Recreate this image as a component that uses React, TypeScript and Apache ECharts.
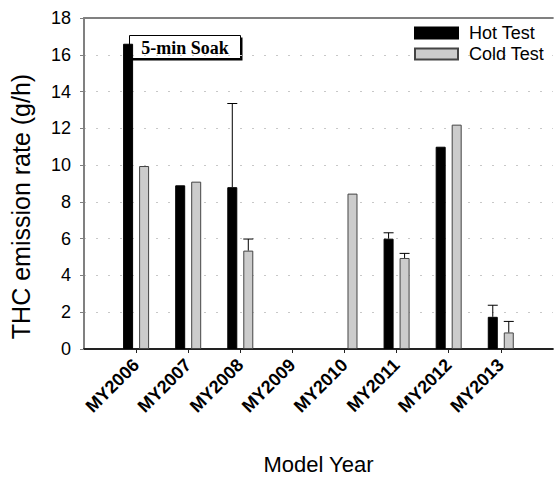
import React, { useEffect, useRef } from "react";
import * as echarts from "echarts";

const modelYears = ["MY2006", "MY2007", "MY2008", "MY2009", "MY2010", "MY2011", "MY2012", "MY2013"];
const hotTest: (number | null)[] = [16.6, 8.9, 8.8, null, null, 6.0, 11.0, 1.75];
const coldTest: (number | null)[] = [9.95, 9.1, 5.35, null, 8.45, 4.95, 12.2, 0.9];
const hotUpper: (number | null)[] = [null, null, 13.35, null, null, 6.32, null, 2.38];
const coldUpper: (number | null)[] = [null, null, 5.98, null, null, 5.2, null, 1.5];
const yMin = 0;
const yMax = 18;
const yStep = 2;

const FONT = "'Liberation Sans', Arial, sans-serif";

export default function App() {
  const ref = useRef<HTMLDivElement>(null);
  useEffect(() => {
    if (!ref.current) return;
    const chart = echarts.init(ref.current, null, { renderer: "svg" });
    const cats = ["", ...modelYears, ""];
    const pad = (a: (number | null)[]) => [null, ...a, null];
    const errData = (vals: (number | null)[], ups: (number | null)[]) =>
      vals
        .map((v, i) => (ups[i] != null && v != null ? [i + 1, v, ups[i]] : null))
        .filter((d) => d !== null);
    const makeErr = (offset: number) => (params: any, api: any) => {
      const base = api.coord([api.value(0), api.value(1)]);
      const top = api.coord([api.value(0), api.value(2)]);
      const x = base[0] + offset;
      return {
        type: "group",
        children: [
          { type: "line", shape: { x1: x, y1: base[1], x2: x, y2: top[1] }, style: { stroke: "#000", lineWidth: 1 } },
          { type: "line", shape: { x1: x - 5, y1: top[1], x2: x + 5, y2: top[1] }, style: { stroke: "#000", lineWidth: 1 } },
        ],
      };
    };
    chart.setOption({
      animation: false,
      backgroundColor: "#fff",
      textStyle: { fontFamily: FONT, color: "#000" },
      grid: { left: 80, top: 18, width: 478, height: 334, containLabel: false },
      legend: {
        data: ["Hot Test", "Cold Test"],
        orient: "vertical",
        left: 414,
        top: 24,
        padding: 0,
        itemWidth: 43,
        itemHeight: 11,
        itemGap: 3,
        icon: "rect",
        textStyle: { fontSize: 18, color: "#000", fontFamily: FONT, padding: [0, 0, 0, 6] },
      },
      xAxis: [
        {
          type: "category",
          data: cats,
          boundaryGap: false,
          name: "Model Year",
          nameLocation: "middle",
          nameGap: 104,
          nameTextStyle: { fontSize: 22, color: "#000", fontFamily: FONT },
          axisLine: { lineStyle: { color: "#222", width: 2 } },
          axisTick: {
            show: true,
            inside: false,
            length: 4,
            interval: (i: number, v: string) => v !== "",
            lineStyle: { color: "#222", width: 1 },
          },
          axisLabel: {
            interval: 0,
            rotate: 45,
            margin: 13,
            fontSize: 18,
            fontWeight: "bold",
            color: "#000",
            fontFamily: FONT,
          },
          splitLine: { show: false },
        },
        {
          type: "category",
          data: cats,
          boundaryGap: false,
          position: "top",
          axisLine: { lineStyle: { color: "#808080", width: 2 } },
          axisTick: { show: false },
          axisLabel: { show: false },
          splitLine: { show: false },
        },
      ],
      yAxis: {
        type: "value",
        min: yMin,
        max: yMax,
        interval: yStep,
        name: "THC emission rate (g/h)",
        nameLocation: "middle",
        nameGap: 51,
        nameTextStyle: { fontSize: 25, color: "#000", fontFamily: FONT, padding: [0, 46, 0, 0] },
        axisLine: { show: true, lineStyle: { color: "#808080", width: 2 } },
        axisTick: { show: true, inside: false, length: 4, lineStyle: { color: "#808080", width: 1 } },
        axisLabel: { fontSize: 18, color: "#000", margin: 13, fontFamily: FONT },
        splitLine: {
          show: true,
          lineStyle: { color: "#c8c8c8", type: [2, 10], width: 1 },
        },
      },
      graphic: [
        {
          type: "group",
          left: 129,
          top: 35,
          children: [
            { type: "rect", shape: { x: 2, y: 2, width: 111, height: 23 }, style: { fill: "#000" } },
            { type: "rect", shape: { x: 0, y: 0, width: 111, height: 23 }, style: { fill: "#fff", stroke: "#000", lineWidth: 1 } },
            {
              type: "text",
              x: 55.5,
              y: 12,
              style: {
                text: "5-min Soak",
                fontFamily: "'Liberation Serif', 'Times New Roman', serif",
                fontWeight: "bold",
                fontSize: 18,
                fill: "#000",
                align: "center",
                verticalAlign: "middle",
              },
            },
          ],
        },
      ],
      series: [
        {
          name: "Hot Test",
          type: "bar",
          data: pad(hotTest),
          barWidth: 10,
          barGap: "60%",
          itemStyle: { color: "#000", borderColor: "#000", borderWidth: 1 },
        },
        {
          name: "Cold Test",
          type: "bar",
          data: pad(coldTest),
          barWidth: 10,
          barGap: "60%",
          itemStyle: { color: "#cccccc", borderColor: "#444", borderWidth: 1 },
        },
        {
          name: "Hot Err",
          type: "custom",
          data: errData(hotTest, hotUpper),
          renderItem: makeErr(-8),
          z: 5,
        },
        {
          name: "Cold Err",
          type: "custom",
          data: errData(coldTest, coldUpper),
          renderItem: makeErr(8),
          z: 5,
        },
      ],
    });
    return () => chart.dispose();
  }, []);
  return (
    <div
      ref={ref}
      style={{ position: "fixed", left: 0, top: 0, width: 555, height: 480, background: "#fff" }}
    />
  );
}
